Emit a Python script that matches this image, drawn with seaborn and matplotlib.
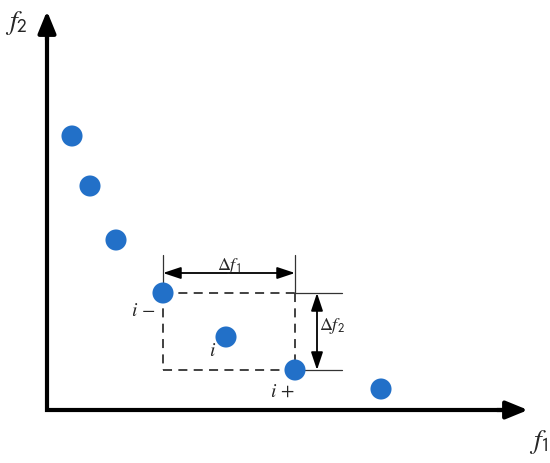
import matplotlib
matplotlib.use("Agg")
import matplotlib.pyplot as plt
import seaborn as sns
import pandas as pd

# data (f1, f2) in drawing units
f1 = [25, 43, 69, 116, 179, 248, 334]
f2 = [274, 224, 170, 117, 73, 40, 21]

sns.set_theme(style="white")
plt.rcParams['mathtext.fontset'] = 'stix'
plt.rcParams['font.family'] = ['Liberation Serif', 'DejaVu Sans']

fig = plt.figure(figsize=(5.5, 4.63), dpi=100)
ax = fig.add_axes([0, 0, 1, 1])
ax.set_xlim(-47, 503)
ax.set_ylim(-53, 410)
ax.axis('off')

df = pd.DataFrame({"f1": f1, "f2": f2})
sns.scatterplot(data=df, x="f1", y="f2", ax=ax, s=230, color="#2270c8",
                edgecolor="none", zorder=5, legend=False)

# axes with arrows
ax.plot([0, 0, 465], [385, 0, 0], color="black", lw=3, solid_joinstyle="miter",
        solid_capstyle="butt", zorder=3)
ax.annotate("", xy=(0, 399), xytext=(0, 370),
            arrowprops=dict(arrowstyle="-|>,head_length=1.1,head_width=0.45", lw=3, color="black",
                            shrinkA=0, shrinkB=0))
ax.annotate("", xy=(481, 0), xytext=(450, 0),
            arrowprops=dict(arrowstyle="-|>,head_length=1.1,head_width=0.45", lw=3, color="black",
                            shrinkA=0, shrinkB=0))
ax.text(-31, 387, r"$f_{\mathsf{2}}$", fontsize=20, ha="center", va="center")
ax.text(492, -32, r"$f_{\mathsf{1}}$", fontsize=20, ha="center", va="center")

# neighbours i-, i+
xa, ya = f1[3], f2[3]
xb, yb = f1[5], f2[5]
dash = dict(color="#333333", lw=1.3, ls=(0, (5, 3.5)), zorder=2)
ax.plot([xa, xb], [ya, ya], **dash)
ax.plot([xa, xb], [yb, yb], **dash)
ax.plot([xa, xa], [ya, yb], **dash)
ax.plot([xb, xb], [ya, yb], **dash)

thin = dict(color="#333333", lw=0.9, zorder=2)
ax.plot([xa, xa], [ya, ya + 38], **thin)
ax.plot([xb, xb], [ya, ya + 38], **thin)
ax.plot([xb, xb + 47], [ya, ya], **thin)
ax.plot([xb, xb + 47], [yb, yb], **thin)

arr = dict(arrowstyle="<|-|>,head_length=0.9,head_width=0.3", lw=1.3, color="black",
           shrinkA=0, shrinkB=0)
ax.annotate("", xy=(xa, ya + 20), xytext=(xb, ya + 20), arrowprops=arr)
ax.annotate("", xy=(xb + 22, ya), xytext=(xb + 22, yb), arrowprops=arr)
ax.text((xa + xb) / 2, ya + 27, r"$\Delta f_{\mathsf{1}}$", fontsize=13, ha="center", va="center")
ax.text(xb + 37, (ya + yb) / 2 + 5, r"$\Delta f_{\mathsf{2}}$", fontsize=13, ha="center", va="center")

ax.text(xa - 20, ya - 18, r"$i\,-$", fontsize=14, ha="center", va="center")
ax.text(f1[4] - 13, f2[4] - 15, r"$i$", fontsize=14, ha="center", va="center")
ax.text(xb - 13, yb - 22, r"$i\,+$", fontsize=14, ha="center", va="center")

fig.savefig("out.png", dpi=100, facecolor="white")
